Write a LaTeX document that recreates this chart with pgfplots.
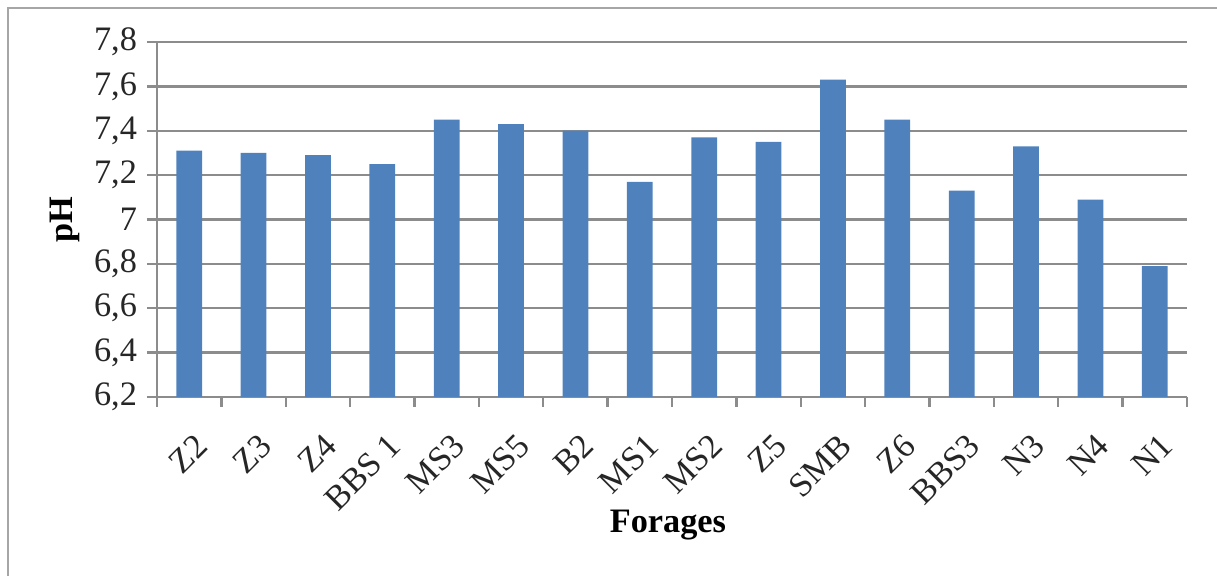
\documentclass[border=0pt]{standalone}
\usepackage{fontspec}
\setmainfont{Liberation Serif}
\usepackage{pgfplots}
\pgfplotsset{compat=1.18}
\usetikzlibrary{calc}
\definecolor{barblue}{HTML}{4F81BD}
\definecolor{gridgray}{HTML}{8C8C8C}
\definecolor{framegray}{HTML}{A6A6A6}
\begin{document}
\begin{tikzpicture}
\begin{axis}[
  name=ax,
  scale only axis,
  width=360.5pt, height=124.25pt,
  ybar, bar width=0.4,
  xmin=-0.5, xmax=15.5, ymin=6.2, ymax=7.8,
  enlargelimits=false,
  axis lines=left,
  axis line style={gridgray, line width=0.8pt, -},
  tick align=outside,
  xtick={0,...,15},
  xticklabels={Z2,Z3,Z4,BBS 1,MS3,MS5,B2,MS1,MS2,Z5,SMB,Z6,BBS3,N3,N4,N1},
  major x tick style={draw=none},
  minor xtick={-0.5,0.5,...,15.5},
  minor x tick style={gridgray, line width=0.8pt},
  minor tick length=3.5pt,
  ytick={6.2,6.4,6.6,6.8,7,7.2,7.4,7.6,7.8},
  y tick style={gridgray, line width=0.8pt},
  major tick length=3.5pt,
  ymajorgrids,
  grid style={gridgray, line width=0.8pt},
  /pgf/number format/fixed,
  /pgf/number format/precision=1,
  /pgf/number format/use comma,
  /pgf/number format/assume math mode=true,
  ticklabel style={font=\fontsize{12}{14}\selectfont, text=black!85},
  xticklabel style={xshift=1.5pt, yshift=-8.5pt, rotate=45, anchor=north east, inner sep=0pt},
  ylabel={\textbf{pH}},
  ylabel style={at={(axis description cs:-0.089,0.5)}, anchor=center, font=\fontsize{12}{14}\selectfont},
  xlabel={\textbf{Forages}},
  xlabel style={at={(axis description cs:0.496,-0.36)}, anchor=center, font=\fontsize{12}{14}\selectfont},
]
\addplot[fill=barblue, draw=none] coordinates {
  (0,7.31) (1,7.30) (2,7.29) (3,7.25) (4,7.45) (5,7.43) (6,7.40) (7,7.17)
  (8,7.37) (9,7.35) (10,7.63) (11,7.45) (12,7.13) (13,7.33) (14,7.09) (15,6.79)
};
\end{axis}
\pgfresetboundingbox
\path[use as bounding box] ($(ax.south west)+(-54.95pt,-62.65pt)$) rectangle ($(ax.north east)+(10.5pt,14.7pt)$);
\draw[framegray, line width=0.8pt] ($(ax.south west)+(-52.15pt,-70pt)$) -- ($(ax.north west)+(-52.15pt,11.9pt)$) -- ($(ax.north east)+(20pt,11.9pt)$);
\end{tikzpicture}
\end{document}
